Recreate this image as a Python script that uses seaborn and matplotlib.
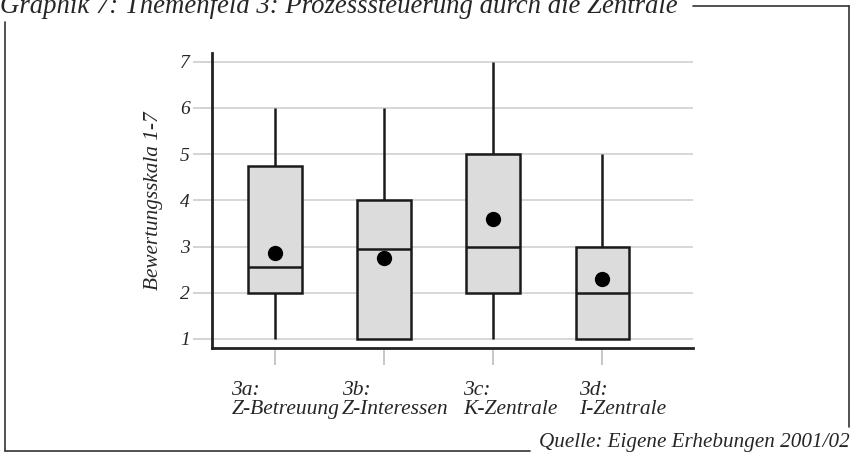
import matplotlib
matplotlib.use("Agg")
import matplotlib.pyplot as plt
import matplotlib.transforms as mtransforms
from matplotlib.lines import Line2D
import pandas as pd
import seaborn as sns

# ----------------------------
# Data
# ----------------------------
categories = ["3a:\nZ-Betreuung", "3b:\nZ-Interessen", "3c:\nK-Zentrale", "3d:\nI-Zentrale"]
whisker_low = [1, 1, 1, 1]
q1 = [2, 1, 2, 1]
median = [2.55, 2.95, 3.0, 2.0]
q3 = [4.75, 4.0, 5.0, 3.0]
whisker_high = [6, 6, 7, 5]
means = [2.85, 2.75, 3.6, 2.3]
yticks = [1, 2, 3, 4, 5, 6, 7]

# five-number summary per category -> boxplot reproduces it exactly
rows = []
for i, cat in enumerate(categories):
    for v in (whisker_low[i], q1[i], median[i], q3[i], whisker_high[i]):
        rows.append({"cat": cat, "val": v})
df = pd.DataFrame(rows)
mean_df = pd.DataFrame({"cat": categories, "val": means})

sns.set_style("white")
plt.rcParams["font.family"] = ["Liberation Serif", "DejaVu Serif"]
plt.rcParams["font.style"] = "italic"

fig = plt.figure(figsize=(8.51, 4.53), dpi=100)
ax = fig.add_axes([0.249, 0.232, 0.565, 0.651])

sns.boxplot(x="cat", y="val", data=df, order=categories, color="#dcdcdc",
            saturation=1, width=0.49, linewidth=1.8, linecolor="#1a1a1a",
            whis=(0, 100), showcaps=False, fliersize=0, ax=ax, zorder=3)
sns.stripplot(x="cat", y="val", data=mean_df, order=categories, jitter=False,
              color="black", size=11, ax=ax, zorder=5)

ax.set_xlim(-0.58, 3.83)
ax.set_ylim(0.805, 7.19)
ax.set_yticks(yticks)
ax.set_yticklabels([str(t) for t in yticks], fontsize=14)
ax.yaxis.grid(True, color="#d4d4d4", lw=1.3)
ax.set_axisbelow(True)

for s in ["top", "right"]:
    ax.spines[s].set_visible(False)
for s in ["left", "bottom"]:
    ax.spines[s].set_linewidth(2.0)
    ax.spines[s].set_color("#222222")

ax.tick_params(axis="y", length=14, width=1.1, color="#c8c8c8", pad=2, left=True)
ax.tick_params(axis="x", length=12, width=1.1, color="#b8b8b8", pad=12, bottom=True)

# category labels: right-aligned block, lines left-aligned inside it
ax.set_xticks(range(len(categories)))
ax.set_xticklabels(categories, fontsize=15.5, ha="right", multialignment="left",
                   linespacing=1.0)
shift = mtransforms.ScaledTranslation(64 / 100, 0, fig.dpi_scale_trans)
for lab in ax.get_xticklabels():
    lab.set_transform(lab.get_transform() + shift)

ax.set_xlabel("")
ax.set_ylabel("Bewertungsskala 1-7", fontsize=15.3, labelpad=12)

# title (partly cut off at the top, as in the source) and source note
fig.text(0.0, 1 - 13 / 453, "Graphik 7: Themenfeld 3: Prozesssteuerung durch die Zentrale",
         fontsize=19.3, ha="left", va="baseline")
fig.text(850 / 851, 6 / 453, "Quelle: Eigene Erhebungen 2001/02",
         fontsize=15.2, ha="right", va="baseline")

# frame around the figure
W, H = 851.0, 453.0
frame = [
    ((693, 849), (6, 6)),
    ((849, 849), (6, 427)),
    ((5, 530), (451, 451)),
    ((5, 5), (22, 451)),
]
for xs, ys in frame:
    fig.add_artist(Line2D([x / W for x in xs], [1 - y / H for y in ys],
                          color="#333333", lw=1.2, transform=fig.transFigure))

plt.savefig("out.png", dpi=100)
plt.close()
